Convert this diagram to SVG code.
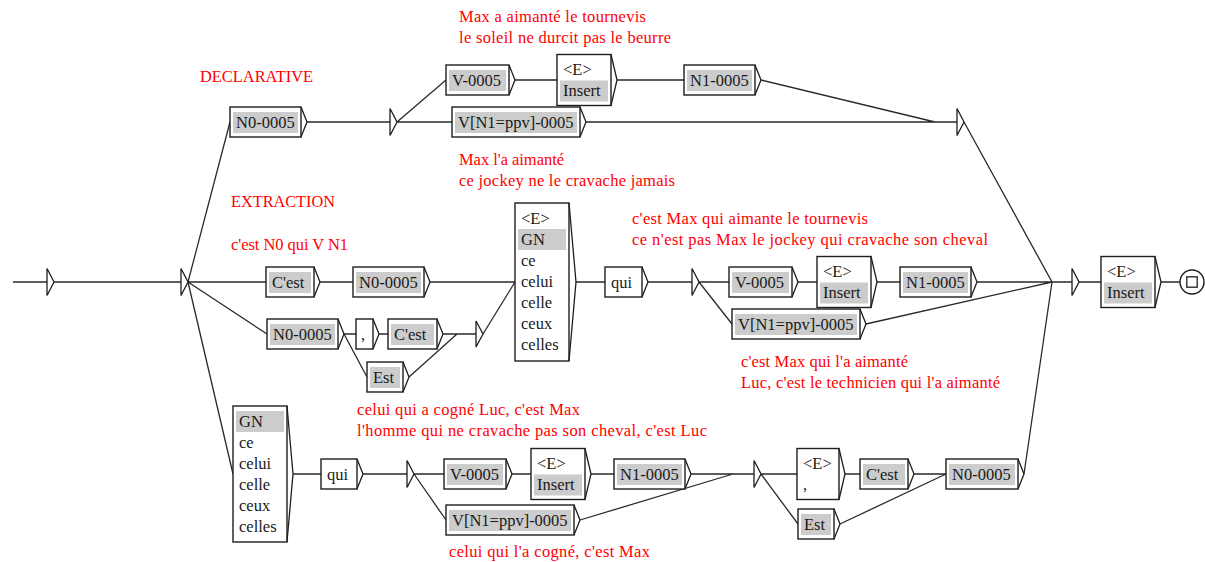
<svg xmlns="http://www.w3.org/2000/svg" width="1205" height="562" viewBox="0 0 1205 562">
<style>
.b{fill:#fff;stroke:#1e1e1e;stroke-width:1.4}
.g{fill:#cccccc}
.ch{fill:none;stroke:#1e1e1e;stroke-width:1.3;stroke-linejoin:miter}
.st{fill:#fff;stroke:#1e1e1e;stroke-width:1.3}
.t{font-family:"Liberation Serif","Times New Roman",serif;font-size:16.5px;fill:#1a1a1a}
.r{font-family:"Liberation Serif","Times New Roman",serif;font-size:16.5px;fill:#ff0000}
.c{fill:none;stroke:#2a2a2a;stroke-width:1.3}
</style>
<rect width="1205" height="562" fill="#fff"/>
<g id="connectors">
<path class="c" d="M13 282H47 M54 282H181 M188 282L230 122 M188 282H266 M188 282L267 334 M188 282L233 474"/>
<path class="c" d="M307 122H390 M397 122L446 80 M397 122H452 M515 80H557 M617 80H684 M761 80L935 122 M586 122H957 M964 122L1052 282"/>
<path class="c" d="M320 282H353 M430 282H515 M344 334H356 M344 334L367 377 M379 334H388 M443 334H476 M409 377L457 334 M483 334L515 282 M576 282H605 M648 282H692 M699 282H729 M699 282L732 324 M798 282H817 M877 282H900 M977 282H1072 M866 324L1052 282 M1079 282H1101 M1161 282H1180"/>
<path class="c" d="M293 474H321 M363 474H407 M414 474H444 M414 474L446 520 M512 474H531 M591 474H614 M691 474H754 M580 520L733 474 M761 474H797 M761 474L798 524 M845 474H860 M914 474H946 M840 524L946 474 M1024 474L1052 282"/>
</g>
<g id="state-start"><polygon class="st" points="47,268.5 47,295.5 54,282"/></g>
<g id="state-split"><polygon class="st" points="181,268.5 181,295.5 188,282"/></g>
<g id="state-top1"><polygon class="st" points="390,108.5 390,135.5 397,122"/></g>
<g id="state-top2"><polygon class="st" points="957,108.5 957,135.5 964,122"/></g>
<g id="state-mid1"><polygon class="st" points="476,321 476,347 483,334"/></g>
<g id="state-mid2"><polygon class="st" points="692,268.5 692,295.5 699,282"/></g>
<g id="state-end"><polygon class="st" points="1072,268.5 1072,295.5 1079,282"/></g>
<g id="state-bot1"><polygon class="st" points="407,460.5 407,487.5 414,474"/></g>
<g id="state-bot2"><polygon class="st" points="754,460.5 754,487.5 761,474"/></g>

<g id="n0-top"><rect class="b" x="230" y="107" width="71" height="30"/><rect class="g" x="233" y="112" width="65" height="21"/><polyline class="ch" points="301,107 307,122 301,137"/><text class="t" x="236" y="128">N0-0005</text></g>
<g id="v-top"><rect class="b" x="446" y="65" width="63" height="30"/><rect class="g" x="449" y="70" width="57" height="21"/><polyline class="ch" points="509,65 515,80 509,95"/><text class="t" x="452" y="86">V-0005</text></g>
<g id="insert-top"><rect class="b" x="557" y="54.5" width="54" height="51"/><rect class="g" x="560" y="80.5" width="48" height="21"/><polyline class="ch" points="611,54.5 617,80 611,105.5"/><text class="t" x="563" y="75">&lt;E&gt;</text><text class="t" x="563" y="96">Insert</text></g>
<g id="n1-top"><rect class="b" x="684" y="65" width="71" height="30"/><rect class="g" x="687" y="70" width="65" height="21"/><polyline class="ch" points="755,65 761,80 755,95"/><text class="t" x="690" y="86">N1-0005</text></g>
<g id="vppv-top"><rect class="b" x="452" y="107" width="128" height="30"/><rect class="g" x="455" y="112" width="122" height="21"/><polyline class="ch" points="580,107 586,122 580,137"/><text class="t" x="458" y="128">V[N1=ppv]-0005</text></g>

<g id="cest-1"><rect class="b" x="266" y="267" width="48" height="30"/><rect class="g" x="269" y="272" width="42" height="21"/><polyline class="ch" points="314,267 320,282 314,297"/><text class="t" x="272" y="288">C'est</text></g>
<g id="n0-mid"><rect class="b" x="353" y="267" width="71" height="30"/><rect class="g" x="356" y="272" width="65" height="21"/><polyline class="ch" points="424,267 430,282 424,297"/><text class="t" x="359" y="288">N0-0005</text></g>
<g id="n0-low"><rect class="b" x="267" y="319" width="71" height="30"/><rect class="g" x="270" y="324" width="65" height="21"/><polyline class="ch" points="338,319 344,334 338,349"/><text class="t" x="273" y="340">N0-0005</text></g>
<g id="comma-1"><rect class="b" x="356" y="319" width="17" height="30"/><polyline class="ch" points="373,319 379,334 373,349"/><text class="t" x="361" y="340">,</text></g>
<g id="cest-2"><rect class="b" x="388" y="319" width="49" height="30"/><rect class="g" x="391" y="324" width="43" height="21"/><polyline class="ch" points="437,319 443,334 437,349"/><text class="t" x="394" y="340">C'est</text></g>
<g id="est-1"><rect class="b" x="367" y="362" width="36" height="30"/><rect class="g" x="370" y="367" width="30" height="21"/><polyline class="ch" points="403,362 409,377 403,392"/><text class="t" x="373" y="383">Est</text></g>
<g id="gn-mid"><rect class="b" x="515" y="203" width="54" height="158"/><rect class="g" x="518" y="229" width="48" height="21"/><polyline class="ch" points="569,203 576,282 569,361"/><text class="t" x="521" y="223.5">&lt;E&gt;</text><text class="t" x="521" y="244.5">GN</text><text class="t" x="521" y="265.5">ce</text><text class="t" x="521" y="286.5">celui</text><text class="t" x="521" y="307.5">celle</text><text class="t" x="521" y="328.5">ceux</text><text class="t" x="521" y="349.5">celles</text></g>
<g id="qui-mid"><rect class="b" x="605" y="267" width="37" height="30"/><polyline class="ch" points="642,267 648,282 642,297"/><text class="t" x="611" y="288">qui</text></g>
<g id="v-mid"><rect class="b" x="729" y="267" width="63" height="30"/><rect class="g" x="732" y="272" width="57" height="21"/><polyline class="ch" points="792,267 798,282 792,297"/><text class="t" x="735" y="288">V-0005</text></g>
<g id="insert-mid"><rect class="b" x="817" y="256.5" width="54" height="51"/><rect class="g" x="820" y="282.5" width="48" height="21"/><polyline class="ch" points="871,256.5 877,282 871,307.5"/><text class="t" x="823" y="277">&lt;E&gt;</text><text class="t" x="823" y="298">Insert</text></g>
<g id="n1-mid"><rect class="b" x="900" y="267" width="71" height="30"/><rect class="g" x="903" y="272" width="65" height="21"/><polyline class="ch" points="971,267 977,282 971,297"/><text class="t" x="906" y="288">N1-0005</text></g>
<g id="vppv-mid"><rect class="b" x="732" y="309" width="128" height="30"/><rect class="g" x="735" y="314" width="122" height="21"/><polyline class="ch" points="860,309 866,324 860,339"/><text class="t" x="738" y="330">V[N1=ppv]-0005</text></g>
<g id="insert-final"><rect class="b" x="1101" y="256.5" width="54" height="51"/><rect class="g" x="1104" y="282.5" width="48" height="21"/><polyline class="ch" points="1155,256.5 1161,282 1155,307.5"/><text class="t" x="1107" y="277">&lt;E&gt;</text><text class="t" x="1107" y="298">Insert</text></g>
<g id="final"><circle cx="1192" cy="282" r="12" fill="#fff" stroke="#1e1e1e" stroke-width="1.4"/><rect x="1186.8" y="276.8" width="10.4" height="10.4" fill="none" stroke="#1e1e1e" stroke-width="1.3"/></g>

<g id="gn-bot"><rect class="b" x="233" y="406" width="54" height="136"/><rect class="g" x="236" y="411" width="48" height="21"/><polyline class="ch" points="287,406 293,474 287,542"/><text class="t" x="239" y="426.5">GN</text><text class="t" x="239" y="447.5">ce</text><text class="t" x="239" y="468.5">celui</text><text class="t" x="239" y="489.5">celle</text><text class="t" x="239" y="510.5">ceux</text><text class="t" x="239" y="531.5">celles</text></g>
<g id="qui-bot"><rect class="b" x="321" y="459" width="36" height="30"/><polyline class="ch" points="357,459 363,474 357,489"/><text class="t" x="327" y="480">qui</text></g>
<g id="v-bot"><rect class="b" x="444" y="459" width="62" height="30"/><rect class="g" x="447" y="464" width="56" height="21"/><polyline class="ch" points="506,459 512,474 506,489"/><text class="t" x="450" y="480">V-0005</text></g>
<g id="insert-bot"><rect class="b" x="531" y="448.5" width="54" height="51"/><rect class="g" x="534" y="474.5" width="48" height="21"/><polyline class="ch" points="585,448.5 591,474 585,499.5"/><text class="t" x="537" y="469">&lt;E&gt;</text><text class="t" x="537" y="490">Insert</text></g>
<g id="n1-bot"><rect class="b" x="614" y="459" width="71" height="30"/><rect class="g" x="617" y="464" width="65" height="21"/><polyline class="ch" points="685,459 691,474 685,489"/><text class="t" x="620" y="480">N1-0005</text></g>
<g id="vppv-bot"><rect class="b" x="446" y="505" width="128" height="30"/><rect class="g" x="449" y="510" width="122" height="21"/><polyline class="ch" points="574,505 580,520 574,535"/><text class="t" x="452" y="526">V[N1=ppv]-0005</text></g>
<g id="e-comma-bot"><rect class="b" x="797" y="448.5" width="42" height="51"/><polyline class="ch" points="839,448.5 845,474 839,499.5"/><text class="t" x="803" y="469">&lt;E&gt;</text><text class="t" x="803" y="490">,</text></g>
<g id="cest-bot"><rect class="b" x="860" y="459" width="48" height="30"/><rect class="g" x="863" y="464" width="42" height="21"/><polyline class="ch" points="908,459 914,474 908,489"/><text class="t" x="866" y="480">C'est</text></g>
<g id="est-bot"><rect class="b" x="798" y="509" width="36" height="30"/><rect class="g" x="801" y="514" width="30" height="21"/><polyline class="ch" points="834,509 840,524 834,539"/><text class="t" x="804" y="530">Est</text></g>
<g id="n0-bot"><rect class="b" x="946" y="459" width="72" height="30"/><rect class="g" x="949" y="464" width="66" height="21"/><polyline class="ch" points="1018,459 1024,474 1018,489"/><text class="t" x="952" y="480">N0-0005</text></g>

<g id="comments">
<text class="r" x="200" y="82" textLength="113" lengthAdjust="spacingAndGlyphs">DECLARATIVE</text>
<text class="r" x="459" y="22" textLength="187" lengthAdjust="spacing">Max a aimanté le tournevis</text>
<text class="r" x="459" y="43" textLength="212" lengthAdjust="spacing">le soleil ne durcit pas le beurre</text>
<text class="r" x="459" y="165" textLength="105" lengthAdjust="spacing">Max l'a aimanté</text>
<text class="r" x="459" y="185.5" textLength="216" lengthAdjust="spacing">ce jockey ne le cravache jamais</text>
<text class="r" x="231" y="207" textLength="104" lengthAdjust="spacingAndGlyphs">EXTRACTION</text>
<text class="r" x="231" y="250" textLength="117" lengthAdjust="spacing">c'est N0 qui V N1</text>
<text class="r" x="632" y="224" textLength="236" lengthAdjust="spacing">c'est Max qui aimante le tournevis</text>
<text class="r" x="632" y="245" textLength="356" lengthAdjust="spacing">ce n'est pas Max le jockey qui cravache son cheval</text>
<text class="r" x="741" y="367" textLength="167" lengthAdjust="spacing">c'est Max qui l'a aimanté</text>
<text class="r" x="741" y="388" textLength="259" lengthAdjust="spacing">Luc, c'est le technicien qui l'a aimanté</text>
<text class="r" x="357" y="415" textLength="223" lengthAdjust="spacing">celui qui a cogné Luc, c'est Max</text>
<text class="r" x="357" y="436" textLength="350" lengthAdjust="spacing">l'homme qui ne cravache pas son cheval, c'est Luc</text>
<text class="r" x="449" y="557" textLength="201" lengthAdjust="spacing">celui qui l'a cogné, c'est Max</text>
</g>
</svg>
